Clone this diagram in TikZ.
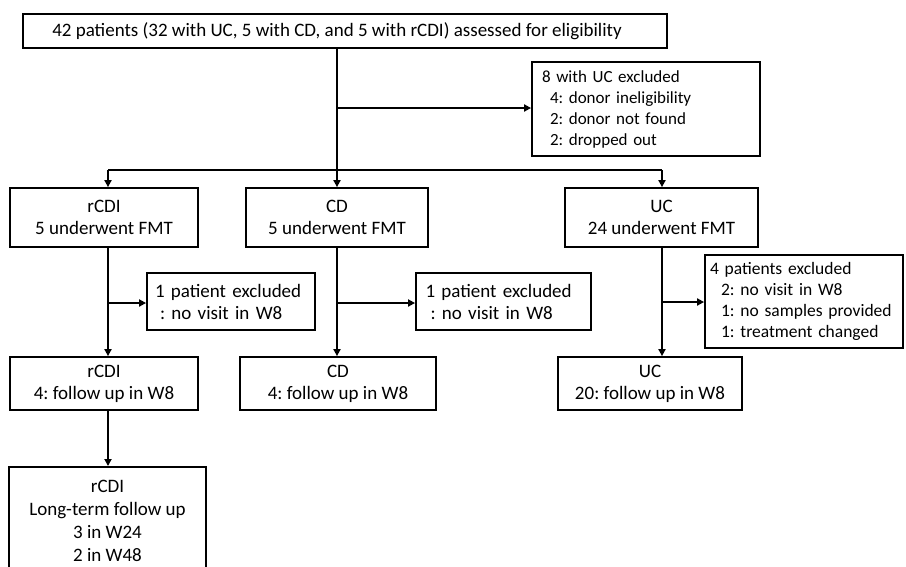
\documentclass[tikz,border=0pt]{standalone}
\usepackage{fontspec}
\setmainfont{Carlito}
\usetikzlibrary{arrows.meta}
\begin{document}
\frenchspacing
\begin{tikzpicture}[x=1pt,y=-1pt,
  box/.style={draw, line width=1.8pt, align=center, inner sep=0pt, font=\fontsize{19}{22}\selectfont},
  lbox/.style={box, align=left, font=\fontsize{17}{21}\selectfont},
  arr/.style={line width=1.8pt, -{Triangle[length=7pt,width=7pt]}},
  ln/.style={line width=1.8pt}]
\useasboundingbox (0,0) rectangle (906,566);
\fill[white] (0,0) rectangle (906,566);
\clip (0,0) rectangle (906,566);

% top
\node[box, minimum width=644pt, minimum height=34pt] (top) at (345,31)
  {42 patients (32 with UC, 5 with CD, and 5 with rCDI) assessed for eligibility\hspace*{16pt}};
\node[lbox, minimum width=228pt, minimum height=94pt, text width=208pt] (ex1) at (646,109)
  {8 with UC excluded\\\hspace*{8pt}4: donor ineligibility\\\hspace*{8pt}2: donor not found\\\hspace*{8pt}2: dropped out};

% row 2
\node[box, minimum width=188pt, minimum height=59pt] (r2a) at (104,217.5) {rCDI\\5 underwent FMT};
\node[box, minimum width=182pt, minimum height=59pt] (r2b) at (337,217.5) {CD\\5 underwent FMT};
\node[box, minimum width=193pt, minimum height=59pt] (r2c) at (661.5,217.5) {UC\\24 underwent FMT};

% exclusions
\node[lbox, minimum width=168pt, minimum height=57pt, text width=152pt, font=\fontsize{19}{22}\selectfont] (exA) at (231,301.5)
  {1 patient excluded\\\hspace*{5pt}: no visit in W8};
\node[lbox, minimum width=175pt, minimum height=57pt, text width=156pt, font=\fontsize{19}{22}\selectfont] (exB) at (503.5,301.5)
  {1 patient excluded\\\hspace*{5pt}: no visit in W8};
\node[lbox, minimum width=198pt, minimum height=93pt, text width=188pt, font=\fontsize{17.5}{21}\selectfont] (exC) at (804,301.5)
  {4 patients excluded\\\hspace*{11pt}2: no visit in W8\\\hspace*{11pt}1: no samples provided\\\hspace*{11pt}1: treatment changed};

% row 3
\node[box, minimum width=188pt, minimum height=53pt] (r3a) at (104,383.5) {rCDI\\4: follow up in W8};
\node[box, minimum width=196pt, minimum height=53pt] (r3b) at (338,383.5) {CD\\4: follow up in W8};
\node[box, minimum width=184pt, minimum height=53pt] (r3c) at (650,383.5) {UC\\20: follow up in W8};

% row 4
\node[box, anchor=north, minimum width=197pt, minimum height=108pt, font=\fontsize{19}{23.3}\selectfont] (r4) at (107.5,466)
  {rCDI\\Long-term follow up\\3 in W24\\2 in W48};

% connectors
\coordinate (bar) at (337,170);
\coordinate (barL) at (108,170);
\coordinate (barR) at (662,170);
\coordinate (j1) at (337,108);
\coordinate (ca) at (108,303);
\coordinate (cb) at (337,303);
\coordinate (cc) at (662,302);

\draw[ln] (top.south -| bar) -- (bar);
\draw[ln] (barL) -- (barR);
\draw[arr] (j1) -- (j1 -| ex1.west);
\draw[arr] (barL) -- (barL |- r2a.north);
\draw[arr] (bar) -- (bar |- r2b.north);
\draw[arr] (barR) -- (barR |- r2c.north);

\draw[arr] (r2a.south -| ca) -- (r3a.north -| ca);
\draw[arr] (ca) -- (ca -| exA.west);
\draw[arr] (r2b.south -| cb) -- (r3b.north -| cb);
\draw[arr] (cb) -- (cb -| exB.west);
\draw[arr] (r2c.south -| cc) -- (r3c.north -| cc);
\draw[arr] (cc) -- (cc -| exC.west);
\draw[arr] (r3a.south -| ca) -- (r4.north -| ca);
\end{tikzpicture}
\end{document}
